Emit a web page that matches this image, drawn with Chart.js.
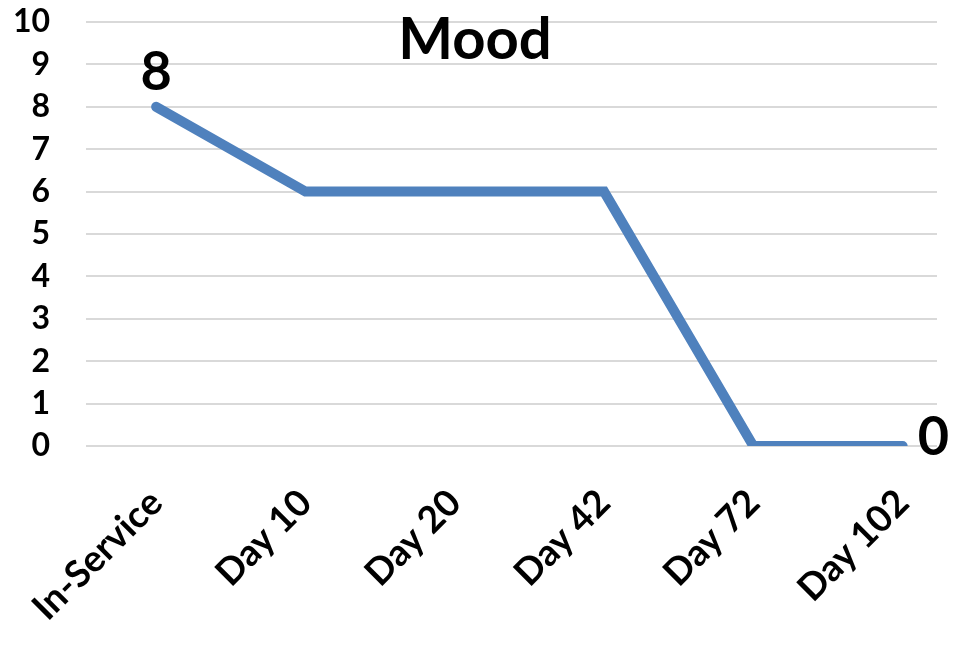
<!DOCTYPE html>
<html>
<head>
<meta charset="utf-8">
<script src="https://cdn.jsdelivr.net/npm/chart.js@4/dist/chart.umd.min.js"></script>
<style>
  html, body { margin: 0; padding: 0; background: #fff; }
  #wrap { width: 958px; height: 645px; }
</style>
</head>
<body>
<div id="wrap"><canvas id="moodChart"></canvas></div>
<script>
// ── DATA ─────────────────────────────────────────
const categories = ['In-Service', 'Day 10', 'Day 20', 'Day 42', 'Day 72', 'Day 102'];
const moodValues = [8, 6, 6, 6, 0, 0];
const yTicks = [0, 1, 2, 3, 4, 5, 6, 7, 8, 9, 10];
const labeledPoints = [0, 5];   // only first and last values get a label
const chartTitle = 'Mood';

const FONT = 'Lato, "Open Sans", sans-serif';

// title + value labels drawn on top of the plot
const overlayPlugin = {
    id: 'overlay',
    afterDatasetsDraw(chart) {
        const ctx = chart.ctx;
        const meta = chart.getDatasetMeta(0);
        ctx.save();
        ctx.fillStyle = '#000';
        ctx.font = `bold 58px ${FONT}`;
        ctx.textAlign = 'center';
        ctx.textBaseline = 'middle';
        ctx.fillText(chartTitle, chart.width / 2 - 4, 40);

        ctx.font = `bold 54px ${FONT}`;
        labeledPoints.forEach((i, n) => {
            const pt = meta.data[i];
            if (n === 0) {
                ctx.textAlign = 'center';
                ctx.textBaseline = 'alphabetic';
                ctx.fillText(String(moodValues[i]), pt.x, pt.y - 17);
            } else {
                ctx.textAlign = 'left';
                ctx.textBaseline = 'middle';
                ctx.fillText(String(moodValues[i]), pt.x + 15, pt.y - 8);
            }
        });
        ctx.restore();
    }
};

new Chart(document.getElementById('moodChart').getContext('2d'), {
    type: 'line',
    data: {
        datasets: [{
            label: chartTitle,
            data: moodValues.map((v, i) => ({ x: i, y: v })),
            borderColor: '#4f81bd',
            borderWidth: 10,
            borderCapStyle: 'round',
            borderJoinStyle: 'miter',
            pointRadius: 0,
            tension: 0,
            fill: false
        }]
    },
    options: {
        responsive: true,
        maintainAspectRatio: false,
        animation: false,
        layout: { padding: { top: 22, right: 21, left: 0, bottom: 0 } },
        plugins: {
            legend: { display: false },
            tooltip: { enabled: false }
        },
        scales: {
            x: {
                type: 'linear',
                min: -0.47,
                max: 5.23,
                grid: { display: false },
                border: { display: false },
                afterBuildTicks: s => { s.ticks = categories.map((_, i) => ({ value: i })); },
                afterFit: s => { s.height = 199; s.paddingLeft = 0; s.paddingRight = 0; },
                ticks: {
                    autoSkip: false,
                    minRotation: 45,
                    maxRotation: 45,
                    padding: 27,
                    color: '#000',
                    font: { family: FONT, size: 37, weight: 'bold' },
                    callback: v => categories[v]
                }
            },
            y: {
                min: 0,
                max: 10,
                afterBuildTicks: s => { s.ticks = yTicks.map(v => ({ value: v })); },
                afterFit: s => { s.width = 86; s.paddingTop = 0; s.paddingBottom = 0; },
                grid: { color: '#d9d9d9', lineWidth: 2, drawTicks: false },
                border: { display: false },
                ticks: {
                    padding: 36,
                    color: '#000',
                    font: { family: FONT, size: 32, weight: 'bold' }
                }
            }
        }
    },
    plugins: [overlayPlugin]
});
</script>
</body>
</html>
